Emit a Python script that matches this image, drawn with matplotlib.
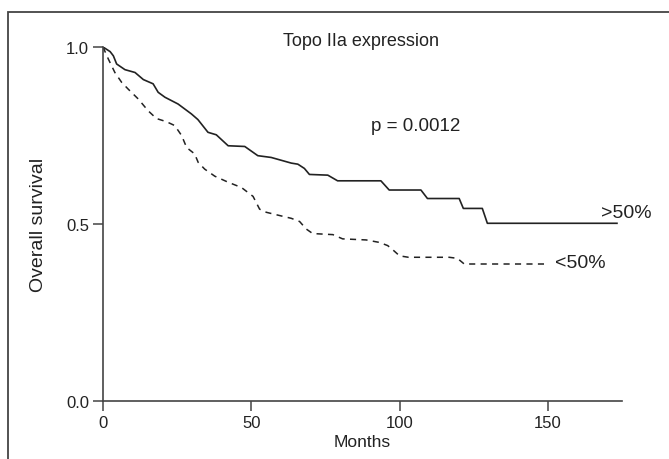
import matplotlib
matplotlib.use("Agg")
import matplotlib.pyplot as plt
from matplotlib.patches import Rectangle

plt.rcParams['font.family'] = ['Liberation Sans', 'DejaVu Sans']

# >50% group (solid)
t_hi = [0, 2.4, 3.5, 4.6, 7.4, 10.8, 13.6, 16.9, 18.6, 20.9, 25.3, 29.8, 32.0, 35.4, 38.2,
        42.2, 47.8, 52.2, 56.7, 63.5, 65.7, 67.9, 69.6, 75.8, 79.1, 93.7, 96.5, 107.2,
        109.4, 120.1, 121.5, 127.9, 129.6, 173.3]
s_hi = [1.0, 0.987, 0.975, 0.952, 0.936, 0.928, 0.908, 0.896, 0.872, 0.858, 0.839, 0.811, 0.795, 0.759, 0.752,
        0.721, 0.719, 0.693, 0.688, 0.672, 0.669, 0.657, 0.640, 0.638, 0.622, 0.622, 0.596, 0.596,
        0.572, 0.572, 0.544, 0.544, 0.502, 0.502]

# <50% group (dashed)
t_lo = [0, 1.8, 4.0, 6.3, 8.5, 11.9, 15.2, 18.0, 21.4, 24.2, 26.5, 28.2, 30.9, 32.1, 34.3, 37.7,
        42.2, 46.7, 50.6, 52.8, 55.1, 59.0, 63.5, 66.3, 68.5, 70.7, 77.5, 80.8, 88.7, 93.2,
        96.0, 98.0, 100.0, 103.0, 116.7, 119.5, 121.8, 149.7]
s_lo = [1.0, 0.966, 0.928, 0.900, 0.881, 0.853, 0.820, 0.798, 0.789, 0.778, 0.750, 0.716, 0.698, 0.674, 0.655, 0.635,
        0.618, 0.603, 0.578, 0.542, 0.533, 0.525, 0.516, 0.507, 0.486, 0.473, 0.470, 0.458, 0.455, 0.448,
        0.439, 0.425, 0.410, 0.406, 0.406, 0.403, 0.387, 0.387]

x_ticks = [0, 50, 100, 150]
y_ticks = [0.0, 0.5, 1.0]
y_ticklabels = ["0.0", "0.5", "1.0"]

W, H = 669, 460
fig = plt.figure(figsize=(W / 100, H / 100), dpi=100)
ax = fig.add_axes([103 / W, 1 - 402 / H, (622 - 103) / W, (402 - 48) / H])

line_col = '#222222'
txt_col = '#222222'
ax.plot(t_hi, s_hi, color=line_col, lw=1.2, solid_joinstyle='round')
ax.plot(t_lo, s_lo, color=line_col, lw=1.1, linestyle=(0, (4, 3.5)))

ax.set_xlim(0, 175)
ax.set_ylim(0, 1.0)
ax.set_xticks(x_ticks)
ax.set_yticks(y_ticks)
ax.set_yticklabels(y_ticklabels)
for sp in ['top', 'right']:
    ax.spines[sp].set_visible(False)
for sp in ['left', 'bottom']:
    ax.spines[sp].set_color('#444444')
    ax.spines[sp].set_linewidth(1.2)
ax.tick_params(direction='out', length=7, width=1.1, color='#444444',
               labelsize=12, labelcolor=txt_col, pad=3)
ax.set_xlabel("Months", fontsize=12.5, color=txt_col, labelpad=3)
ax.set_ylabel("Overall survival", fontsize=14, color=txt_col, labelpad=14)
ax.patch.set_alpha(0)

ax.text(105.6, 0.777, "p = 0.0012", fontsize=13.5, color=txt_col, ha='center', va='center')
ax.text(176.6, 0.532, ">50%", fontsize=14, color=txt_col, ha='center', va='center', clip_on=False)
ax.text(161.0, 0.391, "<50%", fontsize=14, color=txt_col, ha='center', va='center', clip_on=False)
fig.text(361 / W, 1 - 42 / H, "Topo IIa expression", fontsize=13, color=txt_col,
         ha='center', va='center')

fig.patches.append(Rectangle((8 / W, -0.1), 1.2, 1 - 13 / H + 0.1, transform=fig.transFigure,
                             fill=False, edgecolor='#444444', lw=1.3))

fig.savefig("out.png", dpi=100)
